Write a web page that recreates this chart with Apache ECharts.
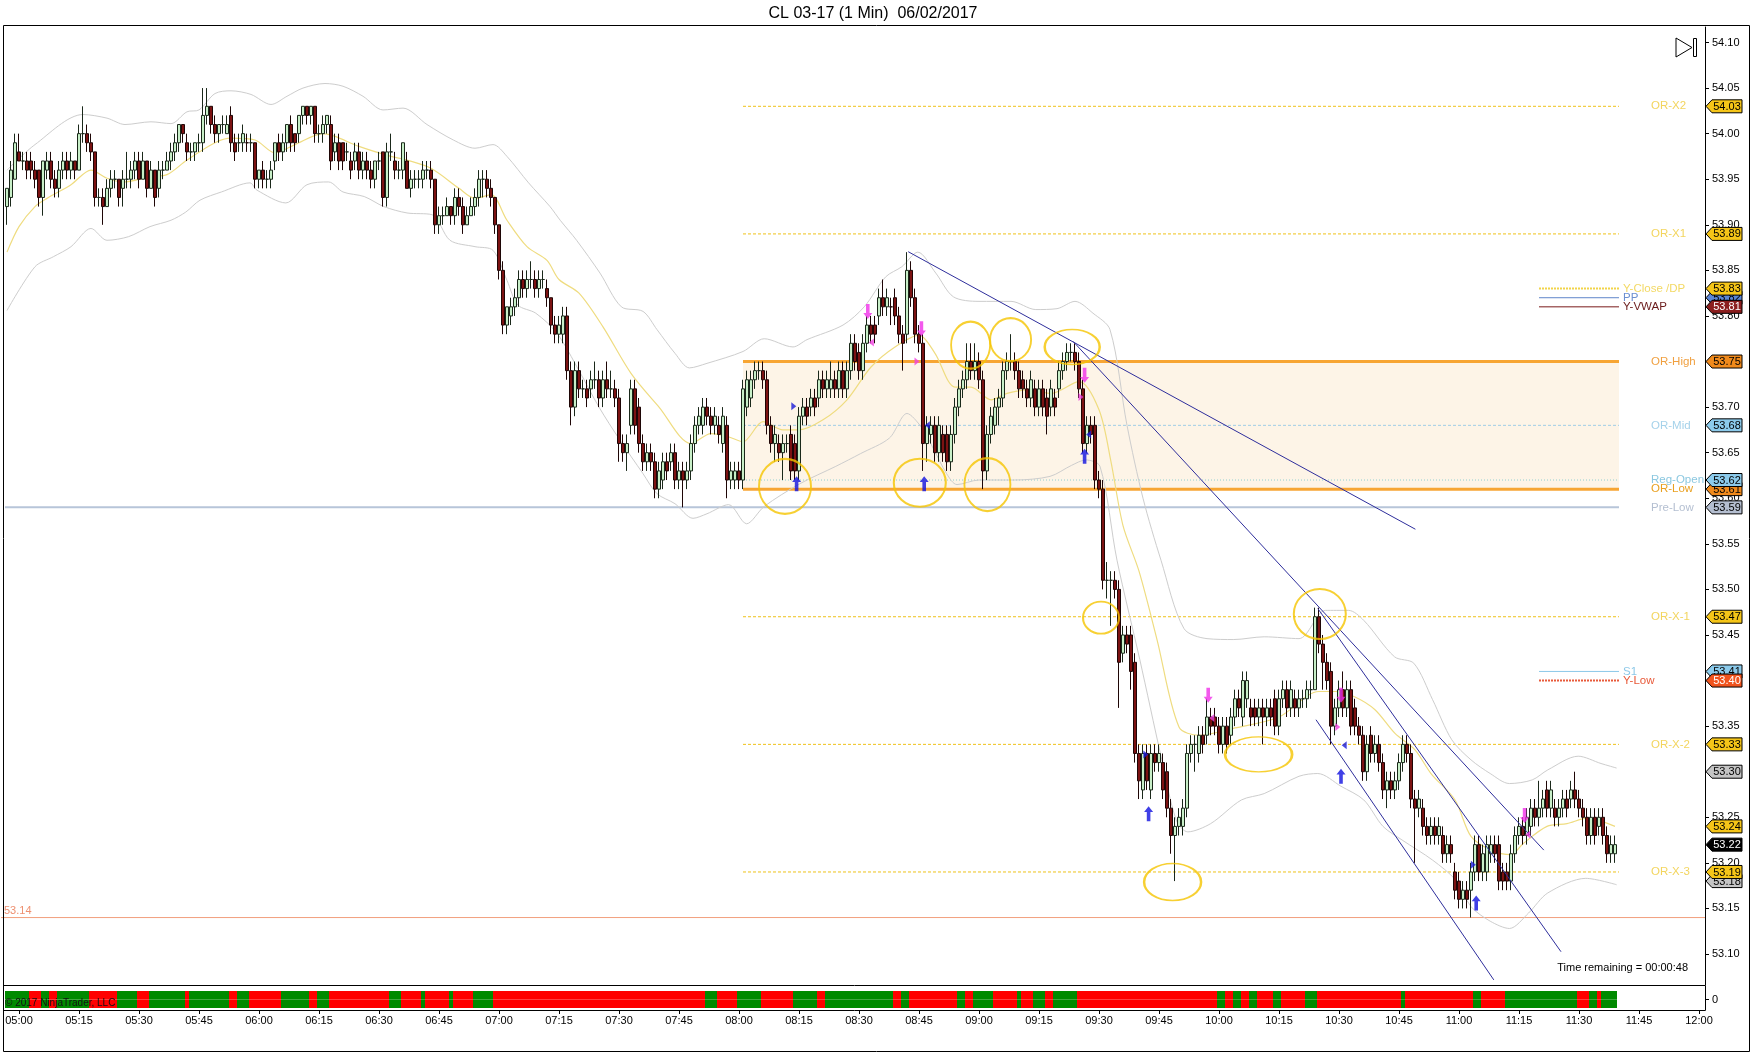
<!DOCTYPE html>
<html><head><meta charset="utf-8">
<script src="https://cdn.jsdelivr.net/npm/echarts@6/dist/echarts.min.js"></script>
<style>html,body{margin:0;padding:0;background:#fff}#c{width:1752px;height:1054px}</style>
</head><body><div id="c"></div>
<script>
// ---------------- DATA ----------------
// minutes after 05:00 of the first bar
const firstMinute = -3;
// one-minute bars [open, high, low, close]
const candles = [
[53.92,53.94,53.90,53.94],[53.93,53.97,53.92,53.96],[53.95,54.00,53.95,53.99],
// 05:00
[53.98,54.00,53.97,53.97],[53.97,53.98,53.96,53.97],[53.97,53.98,53.95,53.96],[53.97,53.98,53.95,53.96],[53.96,53.97,53.94,53.95],
[53.96,53.96,53.92,53.93],[53.93,53.97,53.91,53.97],[53.96,53.98,53.95,53.97],[53.97,53.98,53.94,53.95],[53.95,53.96,53.93,53.94],
[53.94,53.97,53.93,53.96],[53.96,53.98,53.95,53.97],[53.97,53.98,53.95,53.96],[53.96,53.98,53.95,53.97],[53.97,53.97,53.95,53.96],
// 05:15
[53.96,54.01,53.96,54.00],[54.00,54.03,53.99,54.00],[54.00,54.01,53.98,53.99],[53.99,54.00,53.97,53.98],[53.98,53.98,53.92,53.93],
[53.93,53.94,53.92,53.93],[53.93,53.94,53.90,53.92],[53.92,53.95,53.92,53.94],[53.94,53.96,53.93,53.95],[53.95,53.96,53.94,53.95],
[53.95,53.95,53.92,53.93],[53.94,53.96,53.92,53.95],[53.95,53.98,53.94,53.95],[53.95,53.97,53.94,53.96],[53.96,53.98,53.95,53.97],
// 05:30
[53.97,53.98,53.94,53.95],[53.95,53.98,53.95,53.97],[53.97,53.97,53.93,53.94],[53.94,53.97,53.94,53.96],[53.96,53.96,53.92,53.93],
[53.94,53.97,53.93,53.96],[53.96,53.97,53.95,53.96],[53.96,53.98,53.96,53.97],[53.97,53.99,53.96,53.98],[53.98,54.00,53.97,53.99],
[53.99,54.01,53.98,54.01],[54.01,54.01,53.99,54.00],[53.99,54.00,53.97,53.98],[53.98,53.99,53.97,53.98],[53.98,53.99,53.97,53.99],
// 05:45
[53.99,54.00,53.98,53.99],[53.99,54.05,53.98,54.02],[54.02,54.05,54.01,54.03],[54.03,54.03,54.00,54.01],[54.01,54.02,53.99,54.00],
[54.00,54.01,53.99,54.01],[54.01,54.02,54.00,54.01],[54.00,54.02,54.00,54.01],[54.02,54.03,53.98,53.99],[53.99,54.00,53.97,53.98],
[53.99,54.00,53.98,53.99],[53.99,54.01,53.98,54.00],[53.99,54.00,53.98,53.99],[53.99,54.00,53.98,53.99],[53.99,53.99,53.94,53.95],
// 06:00
[53.95,53.96,53.94,53.96],[53.96,53.97,53.94,53.95],[53.95,53.96,53.94,53.95],[53.95,53.97,53.94,53.96],[53.97,53.99,53.96,53.99],
[53.99,54.00,53.97,53.98],[53.98,54.00,53.97,53.99],[53.99,54.01,53.98,54.01],[54.01,54.02,53.98,53.99],[54.00,54.00,53.98,53.99],
[54.00,54.02,53.99,54.02],[54.02,54.03,54.01,54.03],[54.03,54.03,54.01,54.02],[54.02,54.03,54.01,54.03],[54.03,54.03,53.99,54.00],
// 06:15
[54.00,54.01,53.99,54.00],[54.00,54.02,53.99,54.01],[54.01,54.02,54.00,54.02],[54.01,54.02,53.96,53.97],[53.98,54.00,53.97,53.99],
[53.99,54.00,53.96,53.97],[53.99,53.99,53.96,53.97],[53.98,53.99,53.97,53.98],[53.97,53.98,53.95,53.96],[53.97,53.99,53.96,53.98],
[53.98,53.99,53.95,53.96],[53.96,53.98,53.95,53.97],[53.97,53.98,53.95,53.96],[53.96,53.97,53.94,53.95],[53.95,53.97,53.94,53.97],
// 06:30
[53.97,53.98,53.96,53.97],[53.98,53.98,53.92,53.93],[53.93,53.99,53.92,53.98],[53.98,54.00,53.97,53.98],[53.97,53.98,53.95,53.96],
[53.96,53.97,53.95,53.96],[53.96,53.99,53.95,53.99],[53.97,53.98,53.94,53.94],[53.94,53.96,53.93,53.95],[53.95,53.96,53.94,53.95],
[53.95,53.96,53.94,53.95],[53.95,53.97,53.94,53.96],[53.96,53.97,53.95,53.96],[53.96,53.97,53.94,53.95],[53.95,53.95,53.89,53.90],
// 06:45
[53.90,53.92,53.89,53.91],[53.91,53.92,53.90,53.91],[53.91,53.93,53.91,53.92],[53.92,53.92,53.90,53.91],[53.91,53.94,53.90,53.93],
[53.93,53.94,53.91,53.92],[53.92,53.93,53.89,53.90],[53.90,53.92,53.90,53.91],[53.91,53.93,53.91,53.92],[53.92,53.94,53.91,53.93],
[53.93,53.96,53.92,53.95],[53.95,53.96,53.93,53.95],[53.95,53.96,53.93,53.94],[53.94,53.95,53.92,53.93],[53.93,53.93,53.89,53.90],
// 07:00
[53.90,53.90,53.84,53.85],[53.85,53.86,53.78,53.79],[53.79,53.81,53.78,53.81],[53.80,53.82,53.79,53.81],[53.81,53.83,53.80,53.82],
[53.82,53.85,53.81,53.84],[53.84,53.85,53.82,53.83],[53.83,53.85,53.82,53.84],[53.84,53.86,53.83,53.84],[53.84,53.85,53.82,53.83],
[53.83,53.85,53.82,53.84],[53.84,53.85,53.83,53.84],[53.83,53.84,53.81,53.82],[53.82,53.82,53.78,53.79],[53.79,53.80,53.77,53.78],
// 07:15
[53.78,53.80,53.77,53.79],[53.78,53.81,53.77,53.80],[53.80,53.81,53.73,53.74],[53.74,53.75,53.68,53.70],[53.70,53.75,53.69,53.74],
[53.74,53.75,53.71,53.72],[53.72,53.73,53.71,53.72],[53.72,53.73,53.70,53.71],[53.72,53.74,53.71,53.73],[53.73,53.75,53.72,53.73],
[53.73,53.74,53.70,53.71],[53.71,53.74,53.70,53.73],[53.73,53.75,53.71,53.72],[53.72,53.74,53.71,53.72],[53.72,53.73,53.70,53.71],
// 07:30
[53.71,53.72,53.64,53.66],[53.66,53.67,53.64,53.65],[53.65,53.67,53.63,53.66],[53.68,53.73,53.67,53.72],[53.72,53.73,53.67,53.68],
[53.70,53.71,53.65,53.66],[53.66,53.67,53.63,53.64],[53.64,53.66,53.63,53.65],[53.65,53.66,53.63,53.64],[53.64,53.65,53.60,53.61],
[53.61,53.64,53.60,53.63],[53.62,53.65,53.61,53.64],[53.64,53.65,53.62,53.63],[53.64,53.66,53.63,53.65],[53.65,53.66,53.61,53.62],
// 07:45
[53.62,53.64,53.61,53.63],[53.63,53.64,53.59,53.62],[53.62,53.64,53.61,53.63],[53.63,53.67,53.62,53.66],[53.66,53.69,53.65,53.68],
[53.68,53.70,53.67,53.69],[53.68,53.71,53.67,53.70],[53.70,53.71,53.68,53.69],[53.69,53.70,53.67,53.68],[53.68,53.70,53.67,53.69],
[53.68,53.69,53.66,53.67],[53.66,53.70,53.65,53.69],[53.68,53.69,53.60,53.62],[53.62,53.64,53.61,53.63],[53.62,53.64,53.61,53.63],
// 08:00
[53.63,53.64,53.61,53.62],[53.62,53.73,53.61,53.72],[53.70,53.74,53.69,53.73],[53.71,53.74,53.70,53.73],[53.73,53.75,53.72,53.74],
[53.74,53.75,53.73,53.74],[53.74,53.75,53.72,53.73],[53.73,53.74,53.67,53.68],[53.68,53.69,53.65,53.66],[53.66,53.68,53.64,53.67],
[53.66,53.67,53.64,53.65],[53.65,53.67,53.62,53.66],[53.66,53.67,53.65,53.66],[53.67,53.68,53.62,53.63],[53.66,53.67,53.62,53.63],
// 08:15
[53.63,53.70,53.62,53.69],[53.69,53.71,53.68,53.70],[53.70,53.71,53.68,53.69],[53.70,53.72,53.69,53.71],[53.71,53.72,53.69,53.70],
[53.71,53.74,53.70,53.73],[53.73,53.74,53.71,53.72],[53.72,53.74,53.71,53.73],[53.72,53.75,53.71,53.73],[53.73,53.74,53.71,53.72],
[53.72,53.75,53.71,53.74],[53.74,53.75,53.71,53.72],[53.72,53.75,53.71,53.74],[53.74,53.78,53.73,53.77],[53.77,53.78,53.74,53.75],
// 08:30
[53.76,53.77,53.73,53.74],[53.74,53.78,53.73,53.77],[53.77,53.80,53.76,53.79],[53.79,53.80,53.77,53.78],[53.79,53.80,53.77,53.78],
[53.80,53.83,53.79,53.82],[53.82,53.84,53.80,53.81],[53.81,53.83,53.80,53.82],[53.81,53.82,53.79,53.81],[53.82,53.83,53.79,53.80],
[53.80,53.81,53.77,53.78],[53.78,53.79,53.74,53.77],[53.78,53.87,53.77,53.85],[53.85,53.86,53.81,53.82],[53.82,53.83,53.77,53.78],
// 08:45
[53.78,53.79,53.76,53.77],[53.77,53.78,53.63,53.66],[53.66,53.69,53.64,53.68],[53.67,53.69,53.66,53.68],[53.68,53.69,53.64,53.65],
[53.65,53.69,53.64,53.68],[53.67,53.68,53.64,53.65],[53.67,53.68,53.63,53.64],[53.64,53.68,53.63,53.67],[53.67,53.71,53.66,53.70],
[53.70,53.73,53.69,53.72],[53.72,53.74,53.71,53.73],[53.73,53.77,53.72,53.75],[53.75,53.77,53.73,53.74],[53.74,53.77,53.73,53.75],
// 09:00
[53.75,53.76,53.72,53.73],[53.73,53.74,53.61,53.63],[53.63,53.68,53.62,53.67],[53.67,53.70,53.66,53.69],[53.68,53.71,53.67,53.70],
[53.70,53.72,53.68,53.71],[53.71,53.75,53.70,53.74],[53.74,53.76,53.73,53.75],[53.75,53.78,53.74,53.75],[53.75,53.76,53.73,53.74],
[53.74,53.75,53.71,53.72],[53.73,53.74,53.71,53.72],[53.72,53.73,53.70,53.71],[53.71,53.74,53.70,53.73],[53.72,53.73,53.69,53.70],
// 09:15
[53.70,53.73,53.69,53.72],[53.72,53.73,53.69,53.70],[53.71,53.72,53.67,53.69],[53.70,53.73,53.69,53.72],[53.71,53.72,53.69,53.70],
[53.72,53.75,53.71,53.74],[53.74,53.76,53.73,53.75],[53.75,53.77,53.74,53.76],[53.76,53.77,53.75,53.76],[53.76,53.77,53.74,53.75],
[53.75,53.76,53.71,53.72],[53.72,53.73,53.65,53.66],[53.66,53.69,53.65,53.68],[53.68,53.69,53.66,53.67],[53.68,53.69,53.61,53.62],
// 09:30
[53.62,53.63,53.60,53.61],[53.61,53.62,53.50,53.51],[53.51,53.53,53.49,53.51],[53.51,53.52,53.46,53.51],[53.51,53.52,53.49,53.50],
[53.50,53.51,53.37,53.42],[53.43,53.46,53.42,53.45],[53.45,53.46,53.43,53.44],[53.45,53.46,53.39,53.41],[53.42,53.43,53.31,53.32],
[53.32,53.33,53.27,53.29],[53.28,53.33,53.27,53.32],[53.32,53.33,53.28,53.29],[53.28,53.33,53.27,53.32],[53.32,53.33,53.30,53.31],
// 09:45
[53.31,53.33,53.30,53.32],[53.31,53.32,53.27,53.28],[53.30,53.31,53.25,53.26],[53.26,53.27,53.21,53.23],[53.23,53.25,53.18,53.24],
[53.24,53.26,53.23,53.25],[53.24,53.27,53.23,53.26],[53.26,53.33,53.25,53.32],[53.32,53.34,53.31,53.33],[53.33,53.34,53.30,53.33],
[53.32,53.35,53.31,53.34],[53.34,53.35,53.32,53.33],[53.34,53.38,53.33,53.36],[53.36,53.37,53.34,53.35],[53.36,53.37,53.34,53.35],
// 10:00
[53.35,53.36,53.32,53.33],[53.33,53.36,53.32,53.35],[53.35,53.36,53.32,53.33],[53.34,53.37,53.33,53.36],[53.36,53.39,53.35,53.38],
[53.38,53.39,53.36,53.37],[53.36,53.41,53.35,53.40],[53.38,53.41,53.37,53.40],[53.37,53.38,53.35,53.36],[53.37,53.38,53.35,53.36],
[53.36,53.38,53.35,53.37],[53.37,53.38,53.33,53.36],[53.36,53.38,53.35,53.37],[53.37,53.38,53.35,53.36],[53.38,53.39,53.34,53.35],
// 10:15
[53.35,53.39,53.34,53.38],[53.38,53.40,53.37,53.39],[53.39,53.40,53.36,53.37],[53.37,53.40,53.36,53.39],[53.38,53.39,53.36,53.37],
[53.37,53.39,53.36,53.38],[53.38,53.39,53.37,53.38],[53.38,53.40,53.37,53.39],[53.39,53.40,53.38,53.39],[53.39,53.48,53.39,53.47],
[53.47,53.48,53.43,53.44],[53.44,53.45,53.39,53.42],[53.42,53.43,53.39,53.40],[53.41,53.42,53.33,53.35],[53.35,53.38,53.34,53.37],
// 10:30
[53.37,53.40,53.36,53.39],[53.39,53.41,53.36,53.37],[53.37,53.40,53.36,53.39],[53.39,53.40,53.34,53.35],[53.37,53.38,53.34,53.35],
[53.35,53.36,53.33,53.34],[53.34,53.35,53.29,53.30],[53.30,53.34,53.29,53.33],[53.34,53.35,53.31,53.32],[53.32,53.34,53.31,53.33],
[53.33,53.34,53.30,53.31],[53.31,53.32,53.27,53.28],[53.28,53.30,53.26,53.29],[53.29,53.30,53.27,53.28],[53.28,53.30,53.27,53.29],
// 10:45
[53.29,53.32,53.28,53.31],[53.31,53.34,53.30,53.33],[53.33,53.34,53.31,53.32],[53.32,53.33,53.26,53.27],[53.27,53.28,53.20,53.26],
[53.26,53.28,53.25,53.27],[53.26,53.27,53.23,53.24],[53.24,53.25,53.22,53.23],[53.23,53.25,53.22,53.24],[53.24,53.25,53.22,53.23],
[53.23,53.25,53.22,53.24],[53.23,53.24,53.20,53.21],[53.21,53.23,53.20,53.22],[53.22,53.23,53.20,53.21],[53.19,53.20,53.16,53.17],
// 11:00
[53.18,53.19,53.15,53.16],[53.16,53.18,53.15,53.17],[53.17,53.18,53.15,53.16],[53.17,53.20,53.14,53.19],[53.19,53.23,53.18,53.22],
[53.22,53.23,53.18,53.19],[53.19,53.22,53.18,53.21],[53.19,53.23,53.18,53.22],[53.21,53.23,53.20,53.22],[53.22,53.23,53.20,53.21],
[53.22,53.23,53.17,53.18],[53.19,53.20,53.17,53.18],[53.19,53.20,53.17,53.18],[53.18,53.22,53.17,53.21],[53.21,53.24,53.20,53.23],
// 11:15
[53.23,53.25,53.22,53.24],[53.24,53.25,53.22,53.23],[53.23,53.26,53.22,53.25],[53.24,53.27,53.23,53.26],[53.26,53.27,53.24,53.25],
[53.25,53.29,53.24,53.26],[53.26,53.28,53.25,53.27],[53.28,53.29,53.25,53.26],[53.26,53.29,53.25,53.28],[53.26,53.27,53.24,53.25],
[53.25,53.27,53.24,53.26],[53.26,53.28,53.25,53.27],[53.27,53.28,53.25,53.26],[53.27,53.29,53.26,53.28],[53.28,53.30,53.26,53.27],
// 11:30
[53.27,53.28,53.25,53.26],[53.26,53.27,53.24,53.25],[53.25,53.26,53.22,53.23],[53.23,53.26,53.22,53.25],[53.25,53.26,53.22,53.23],
[53.24,53.26,53.23,53.25],[53.25,53.26,53.22,53.23],[53.23,53.24,53.20,53.21],[53.21,53.23,53.20,53.22],[53.21,53.23,53.20,53.22]
];

// yellow average line [minute, price]
const avgLine = [[-3,53.87],[0,53.898],[4,53.92],[7,53.929],[13,53.944],[18,53.96],[22,53.951],[26,53.947],[33,53.953],[37,53.955],[42,53.971],[49,53.99],[53,53.995],[59,53.993],[64,53.979],[69,53.988],[76,54.0],[79,53.997],[85,53.986],[93,53.975],[97,53.971],[103,53.962],[110,53.94],[114,53.929],[118,53.933],[122,53.905],[127,53.876],[132,53.861],[135,53.84],[140,53.825],[146,53.788],[153,53.737],[160,53.70],[168,53.66],[173,53.671],[177,53.668],[181,53.662],[186,53.684],[191,53.675],[195,53.675],[201,53.686],[207,53.708],[213,53.744],[219,53.766],[225,53.779],[229,53.759],[234,53.722],[238,53.722],[243,53.708],[247,53.715],[252,53.719],[258,53.715],[265,53.728],[270,53.697],[273,53.64],[276,53.57],[280,53.52],[284.5,53.445],[290,53.349],[295,53.340],[304,53.348],[315,53.360],[325,53.388],[329,53.388],[334,53.382],[339,53.368],[344,53.342],[349,53.324],[353,53.298],[359,53.269],[363,53.229],[368,53.214],[373,53.209],[376,53.221],[382,53.240],[387,53.243],[392,53.249],[399,53.240]];
// grey envelope
const upperBand = [[-3,53.96],[4,53.988],[16,54.021],[22,54.017],[26.5,54.010],[33,54.013],[38,54.011],[42,54.024],[45,54.026],[49,54.044],[53,54.047],[58,54.043],[63,54.032],[67,54.041],[71,54.05],[76.5,54.055],[81,54.052],[86,54.041],[91,54.026],[96,54.028],[102,54.01],[108.6,53.993],[114,53.984],[118.5,53.988],[122,53.975],[127.4,53.946],[132.75,53.92],[135.3,53.905],[139.4,53.883],[145.25,53.847],[150.6,53.810],[156,53.805],[159.5,53.785],[164,53.759],[167.6,53.743],[172,53.748],[181,53.761],[186.3,53.775],[193.5,53.766],[197,53.774],[206,53.790],[211.3,53.810],[216.7,53.843],[220.7,53.854],[224.7,53.870],[229.2,53.847],[233.6,53.821],[240,53.816],[248,53.816],[254.2,53.807],[259.5,53.808],[264,53.816],[268.5,53.803],[272.75,53.785],[277,53.68],[281,53.60],[285.5,53.532],[291.25,53.457],[297,53.446],[303.7,53.445],[311.3,53.448],[320,53.446],[326.65,53.477],[332.4,53.477],[336.2,53.466],[343.9,53.426],[348.7,53.419],[353.4,53.379],[358.2,53.335],[363,53.313],[367.8,53.298],[372.6,53.287],[378.3,53.291],[382.2,53.302],[389.8,53.317],[395.5,53.309],[399.4,53.304]];
const lowerBand = [[-3,53.806],[4,53.854],[8.6,53.865],[13,53.876],[18,53.896],[22,53.883],[27.4,53.887],[32.75,53.898],[38,53.905],[41.7,53.914],[45.25,53.927],[50.6,53.936],[57.75,53.946],[59.5,53.938],[66.7,53.924],[72,53.944],[77.4,53.947],[81,53.936],[86.3,53.931],[91.2,53.92],[97,53.913],[103.3,53.911],[107.75,53.883],[114,53.876],[118.5,53.872],[122,53.839],[124.7,53.812],[129.2,53.803],[134.5,53.781],[140,53.74],[145,53.70],[150.2,53.664],[156,53.627],[159.5,53.605],[164,53.594],[168.5,53.578],[172,53.583],[177.4,53.593],[181.9,53.572],[186.3,53.591],[195.25,53.616],[204.2,53.635],[210.4,53.649],[217.6,53.666],[222,53.693],[225.6,53.678],[228.3,53.657],[231.9,53.627],[234.5,53.615],[240,53.620],[248.8,53.620],[257.75,53.624],[263.1,53.636],[266.7,53.642],[270.25,53.635],[274.5,53.532],[280.2,53.423],[285.5,53.317],[289.3,53.247],[292.2,53.234],[297.9,53.243],[305.6,53.269],[311.3,53.276],[320,53.295],[324.7,53.298],[330.5,53.284],[336.2,53.269],[341,53.240],[345.8,53.225],[353.4,53.203],[359.2,53.181],[363,53.152],[367.8,53.136],[372.6,53.128],[377.4,53.145],[382.2,53.167],[391.7,53.183],[399.4,53.176]];

// opening-range levels (drawn from 08:00 to the last bar)
const orNames  = ['OR-X2','OR-X1','OR-High','OR-Mid','Reg-Open','OR-Low','OR-X-1','OR-X-2','OR-X-3'];
const orValues = [54.03, 53.89, 53.75, 53.68, 53.62, 53.61, 53.47, 53.33, 53.19];
const orStart = 181, levelEnd = 400;
// daily levels (short segments at the right)
const dayNames  = ['Y-Close /DP','PP','Y-VWAP','S1','Y-Low'];
const dayValues = [53.83, 53.82, 53.81, 53.41, 53.40];
const dayStart = 380;
const preLow = 53.59;
const lowMark = 53.14;

// trend lines [[minute, price],[minute, price]]
const trendLines = [
  [[222.3,53.8705],[349.1,53.566]],
  [[263.55,53.772],[381.2,53.214]],
  [[324.7,53.479],[385.5,53.1025]],
  [[324.25,53.357],[368.7,53.0716]]
];
// highlighted spots [minute, price]
const circles = [[191.5,53.613],[225.2,53.617],[242.1,53.615],[237.9,53.768],[247.9,53.774],[263.3,53.766],[270.5,53.469],[325.2,53.473],[309.9,53.319],[288.4,53.179]];
// signal markers [minute, price]
const buyArrows  = [[194.4,53.616],[226.3,53.616],[266.4,53.646],[282.4,53.254],[330.5,53.295],[364.3,53.156]];
const sellArrows = [[212.2,53.805],[225.6,53.786],[266.4,53.735],[297.3,53.384],[330.5,53.384],[376.4,53.252]];
const blueTriRight = [[193.7,53.701],[281.7,53.319],[363.6,53.198]];
const blueTriLeft  = [[227.1,53.680],[267.4,53.670],[331.3,53.329]];
const pinkTriRight = [[224.5,53.750],[265.5,53.711],[329.7,53.349]];
const pinkTriLeft  = [[213.1,53.771],[298.2,53.359],[377.2,53.231]];

// bottom state strip: [fromMinute, toMinute, 1 = green / 0 = red]
const stripRuns = [[-3,3,1],[3,6,0],[6,8,1],[8,10,0],[10,18,1],[18,25,0],[25,30,1],[30,33,0],[33,42,1],[42,43,0],[43,53,1],[53,55,0],[55,58,1],[58,66,0],[66,73,1],[73,75,0],[75,78,1],[78,93,0],[93,96,1],[96,101,0],[101,102,1],[102,108,0],[108,109,1],[109,114,0],[114,119,1],[119,172,0],[172,175,1],[175,180,0],[180,186,1],[186,194,0],[194,200,1],[200,202,0],[202,219,1],[219,221,0],[221,223,1],[223,235,0],[235,237,1],[237,239,0],[239,244,1],[244,250,0],[250,251,1],[251,254,0],[254,257,1],[257,259,0],[259,265,1],[265,300,0],[300,302,1],[302,304,0],[304,306,1],[306,308,0],[308,310,1],[310,314,0],[314,316,1],[316,322,0],[322,325,1],[325,346,0],[346,347,1],[347,364,0],[364,366,1],[366,372,0],[372,390,1],[390,393,0],[393,395,1],[395,396,0],[396,400,1]];

// right-axis price tags [price, fill, text colour]  (drawing order)
const priceTags = [
  [53.82,'#5b86d6','#000'],[54.03,'#f5c518','#000'],[53.89,'#f5c518','#000'],[53.83,'#f5c518','#000'],[53.81,'#8b1e1e','#fff'],
  [53.75,'#f08a1c','#000'],[53.68,'#8ccbec','#000'],[53.61,'#f08a1c','#000'],[53.62,'#8ccbec','#000'],[53.59,'#b4bed0','#000'],
  [53.47,'#f5c518','#000'],[53.41,'#8ccbec','#000'],[53.40,'#f0541e','#fff'],[53.33,'#f5c518','#000'],[53.30,'#c4c4c4','#000'],
  [53.24,'#f5c518','#000'],[53.22,'#000000','#fff'],[53.18,'#c4c4c4','#000'],[53.19,'#f5c518','#000']
];
const priceTicks = [53.10,53.15,53.20,53.25,53.30,53.35,53.40,53.45,53.50,53.55,53.60,53.65,53.70,53.75,53.80,53.85,53.90,53.95,54.00,54.05,54.10];
const timeTicks = ['05:00','05:15','05:30','05:45','06:00','06:15','06:30','06:45','07:00','07:15','07:30','07:45','08:00','08:15','08:30','08:45','09:00','09:15','09:30','09:45','10:00','10:15','10:30','10:45','11:00','11:15','11:30','11:45','12:00'];
const titleText = 'CL 03-17 (1 Min)  06/02/2017';

// ---------------- STYLES ----------------
const levelStyle = {
  'OR-X2':{c:'#efc21a',t:[3,2],w:1,lc:'#f3d55e'}, 'OR-X1':{c:'#efc21a',t:[3,2],w:1,lc:'#f3d55e'},
  'OR-High':{c:'#f7a533',t:'solid',w:3,lc:'#f0a040'}, 'OR-Mid':{c:'#9fcde6',t:[3,2],w:1,lc:'#a5d2ea'},
  'Reg-Open':{c:'#8fcfcf',t:[1,2],w:1,lc:'#8cc8e0'}, 'OR-Low':{c:'#f7a533',t:'solid',w:3,lc:'#e9a020'},
  'OR-X-1':{c:'#efc21a',t:[3,2],w:1,lc:'#f3d55e'}, 'OR-X-2':{c:'#efc21a',t:[3,2],w:1,lc:'#f3d55e'}, 'OR-X-3':{c:'#efc21a',t:[3,2],w:1,lc:'#f3d55e'},
  'Y-Close /DP':{c:'#f2d44a',t:[2,1],w:2,lc:'#f3d964'}, 'PP':{c:'#5f86c9',t:'solid',w:1,lc:'#6b8fd0'},
  'Y-VWAP':{c:'#7a1a1a',t:'solid',w:1,lc:'#6a1a1a'}, 'S1':{c:'#8cc8e8',t:'solid',w:1,lc:'#8cc8e8'},
  'Y-Low':{c:'#e85a3a',t:[2,1],w:2,lc:'#e85a3a'}
};
const circleSizes = [[52,55],[52,48],[46,53],[39,47],[41,43],[55,35],[36,32],[52,50],[67,35],[57,37]];
const FONT = 'Arial, "Liberation Sans", sans-serif';

// ---------------- BUILD ----------------
const catStart = -4, catEnd = 421;
const pad = n => (n < 10 ? '0' : '') + n;
const categories = [];
for (let t = catStart; t <= catEnd; t++) { const m = 300 + t; categories.push(pad(Math.floor(m / 60)) + ':' + pad(m % 60)); }

const candleData = categories.map((_, i) => {
  const c = candles[i + catStart - firstMinute];
  return c ? [c[0], c[3], c[2], c[1]] : ['-', '-', '-', '-'];
});
function stripState(t) { for (const r of stripRuns) if (t >= r[0] && t < r[1]) return r[2]; return null; }
const stripTop = [], stripBot = [];
categories.forEach((_, i) => {
  const s = stripState(i + catStart);
  if (s === null) { stripTop.push('-'); stripBot.push('-'); return; }
  const col = s ? '#008a00' : '#ff0000';
  stripTop.push({ value: 1, itemStyle: { color: col } });
  stripBot.push({ value: -1, itemStyle: { color: col } });
});
const isTick = (i, v) => timeTicks.indexOf(v) >= 0;

const series = [];
function hLine(name, v, x0, x1, dist, extra) {
  const st = levelStyle[name];
  const s = {
    name, type: 'line', xAxisIndex: 1, yAxisIndex: 0, silent: true, symbol: 'none', z: 1,
    data: [[x0, v], [x1, v]],
    lineStyle: { color: st.c, width: st.w, type: st.t },
    endLabel: { show: true, formatter: name, color: st.lc, fontSize: 11.5, fontFamily: FONT, distance: dist }
  };
  return Object.assign(s, extra || {});
}
orNames.forEach((n, i) => {
  const extra = n === 'OR-High' ? { markArea: { silent: true, itemStyle: { color: '#fdf4e7' }, data: [[{ coord: [orStart, orValues[2]] }, { coord: [levelEnd, orValues[5]] }]] } } : null;
  series.push(hLine(n, orValues[i], orStart, levelEnd, 32, extra));
});
dayNames.forEach((n, i) => series.push(hLine(n, dayValues[i], dayStart, levelEnd, 4)));
series.push({ name: 'Pre-Low', type: 'line', xAxisIndex: 1, yAxisIndex: 0, silent: true, symbol: 'none', z: 1,
  data: [[-3.5, preLow], [levelEnd, preLow]], lineStyle: { color: '#b7c5d9', width: 2 },
  endLabel: { show: true, formatter: 'Pre-Low', color: '#b4bfd1', fontSize: 11.5, fontFamily: FONT, distance: 32 } });
series.push({ name: 'low', type: 'line', xAxisIndex: 1, yAxisIndex: 0, silent: true, symbol: 'none', z: 1,
  data: [[-4.5, lowMark], [421.5, lowMark]], lineStyle: { color: '#f2a07e', width: 1 } });

const bandStyle = { color: '#cdcdcd', width: 1 };
series.push({ type: 'line', xAxisIndex: 1, yAxisIndex: 0, silent: true, symbol: 'none', smooth: 0.3, z: 2, data: upperBand, lineStyle: bandStyle });
series.push({ type: 'line', xAxisIndex: 1, yAxisIndex: 0, silent: true, symbol: 'none', smooth: 0.3, z: 2, data: lowerBand, lineStyle: bandStyle });
series.push({ type: 'line', xAxisIndex: 1, yAxisIndex: 0, silent: true, symbol: 'none', smooth: 0.3, z: 2, data: avgLine, lineStyle: { color: '#efdc80', width: 1.2 } });

series.push({ type: 'candlestick', xAxisIndex: 0, yAxisIndex: 0, z: 3, barWidth: 3, data: candleData,
  itemStyle: { color: '#c8efc8', color0: '#7c1212', borderColor: '#1a281a', borderColor0: '#1e0606', borderWidth: 1 } });

trendLines.forEach(l => series.push({ type: 'line', xAxisIndex: 1, yAxisIndex: 0, silent: true, symbol: 'none', z: 4,
  data: l, lineStyle: { color: '#2e2e9c', width: 1 } }));

series.push({ type: 'scatter', xAxisIndex: 1, yAxisIndex: 0, silent: true, z: 5,
  data: circles.map((c, i) => ({ value: c, symbolSize: circleSizes[i] })),
  symbol: 'circle', itemStyle: { color: 'rgba(0,0,0,0)', borderColor: '#f5c400', borderWidth: 2 } });

const upArrow = 'path://M5,0 L10,5 L7,5 L7,13 L3,13 L3,5 L0,5 Z';
const dnArrow = 'path://M3,0 L7,0 L7,8 L10,8 L5,13 L0,8 L3,8 Z';
const triR = 'path://M0,0 L6,4 L0,8 Z', triL = 'path://M6,0 L0,4 L6,8 Z';
function marks(d, sym, size, color) {
  return { type: 'scatter', xAxisIndex: 1, yAxisIndex: 0, silent: true, z: 6, data: d, symbol: sym, symbolSize: size, itemStyle: { color } };
}
series.push(marks(buyArrows, upArrow, [9, 15], '#1010e0'));
series.push(marks(sellArrows, dnArrow, [9, 15], '#f030e8'));
series.push(marks(blueTriRight, triR, [5, 8], '#1a1ad8'));
series.push(marks(blueTriLeft, triL, [5, 8], '#1a1ad8'));
series.push(marks(pinkTriRight, triR, [5, 8], '#f040e0'));
series.push(marks(pinkTriLeft, triL, [5, 8], '#f040e0'));

series.push({ type: 'bar', xAxisIndex: 2, yAxisIndex: 1, silent: true, barWidth: '100%', barGap: '-100%', data: stripTop });
series.push({ type: 'bar', xAxisIndex: 2, yAxisIndex: 1, silent: true, barWidth: '100%', barGap: '-100%', data: stripBot });

const chart = echarts.init(document.getElementById('c'), null, { renderer: 'canvas' });
chart.setOption({
  animation: false,
  backgroundColor: '#fff',
  textStyle: { fontFamily: FONT },
  grid: [
    { left: 1, top: 27, width: 1704, height: 958 },
    { left: 1, top: 986, width: 1704, height: 24 }
  ],
  xAxis: [
    { type: 'category', gridIndex: 0, data: categories, show: false, boundaryGap: true },
    { type: 'value', gridIndex: 0, min: -4.5, max: 421.5, show: false },
    { type: 'category', gridIndex: 1, data: categories, boundaryGap: true,
      axisLine: { show: false, onZero: false },
      axisTick: { show: true, alignWithLabel: true, interval: isTick, length: 4, lineStyle: { color: '#000' } },
      axisLabel: { interval: isTick, color: '#000', fontSize: 11, fontFamily: FONT, margin: 5 } }
  ],
  yAxis: [
    { type: 'value', gridIndex: 0, position: 'right', min: 53.066, max: 54.117, scale: true,
      axisLine: { show: true, onZero: false, lineStyle: { color: '#000' } },
      axisTick: { show: true, customValues: priceTicks, length: 4, lineStyle: { color: '#000' } },
      axisLabel: { customValues: priceTicks, formatter: v => v.toFixed(2), color: '#000', fontSize: 11, fontFamily: FONT, margin: 7 },
      splitLine: { show: false } },
    { type: 'value', gridIndex: 1, position: 'right', min: -1.235, max: 1.588,
      axisLine: { show: true, onZero: false, lineStyle: { color: '#000' } },
      axisTick: { show: true, customValues: [0], length: 4, lineStyle: { color: '#000' } },
      axisLabel: { customValues: [0], formatter: () => '0', color: '#000', fontSize: 11, fontFamily: FONT, margin: 7 },
      splitLine: { show: false } }
  ],
  series
});

// frame, title, notes and right-axis tags (positions from the chart's own scales)
const g = [];
g.push({ type: 'rect', shape: { x: 3.5, y: 25.5, width: 1746, height: 1026 }, style: { fill: 'none', stroke: '#000', lineWidth: 1 }, z: 50, silent: true });
g.push({ type: 'line', shape: { x1: 3.5, y1: 985.5, x2: 1705.5, y2: 985.5 }, style: { stroke: '#000', lineWidth: 1 }, z: 50, silent: true });
g.push({ type: 'line', shape: { x1: 3.5, y1: 1010.5, x2: 1705.5, y2: 1010.5 }, style: { stroke: '#000', lineWidth: 1 }, z: 50, silent: true });
g.push({ type: 'text', x: 873, y: 14, style: { text: titleText, font: '16px ' + FONT, fill: '#000', align: 'center', verticalAlign: 'middle' }, z: 50 });
const yLow = chart.convertToPixel({ yAxisIndex: 0 }, lowMark);
g.push({ type: 'text', x: 4, y: yLow - 1, style: { text: lowMark.toFixed(2), font: '11px ' + FONT, fill: '#ee9070', align: 'left', verticalAlign: 'bottom' }, z: 50 });
g.push({ type: 'text', x: 1688, y: 968, style: { text: 'Time remaining = 00:00:48', font: '11px ' + FONT, fill: '#000', align: 'right', verticalAlign: 'middle' }, z: 50 });
g.push({ type: 'text', x: 5, y: 1003, style: { text: '\u00a9 2017 NinjaTrader, LLC', font: '10px ' + FONT, fill: '#111', align: 'left', verticalAlign: 'middle' }, z: 60 });
g.push({ type: 'polygon', shape: { points: [[1676, 38], [1692, 47.5], [1676, 57]] }, style: { fill: '#fff', stroke: '#000', lineWidth: 1 }, z: 50 });
g.push({ type: 'rect', shape: { x: 1693.5, y: 38.5, width: 3, height: 18 }, style: { fill: '#fff', stroke: '#000', lineWidth: 1 }, z: 50 });
priceTags.forEach((p, k) => {
  const y = chart.convertToPixel({ yAxisIndex: 0 }, p[0]);
  g.push({ type: 'polygon', z: 70 + k, shape: { points: [[1706, y], [1712, y - 6.5], [1742, y - 6.5], [1742, y + 6.5], [1712, y + 6.5]] },
    style: { fill: p[1], stroke: '#000', lineWidth: 1 } });
  g.push({ type: 'text', z: 70 + k, x: 1727, y: y + 0.5, style: { text: p[0].toFixed(2), font: '11px ' + FONT, fill: p[2], align: 'center', verticalAlign: 'middle' } });
});
chart.setOption({ graphic: g });
</script>
</body></html>
